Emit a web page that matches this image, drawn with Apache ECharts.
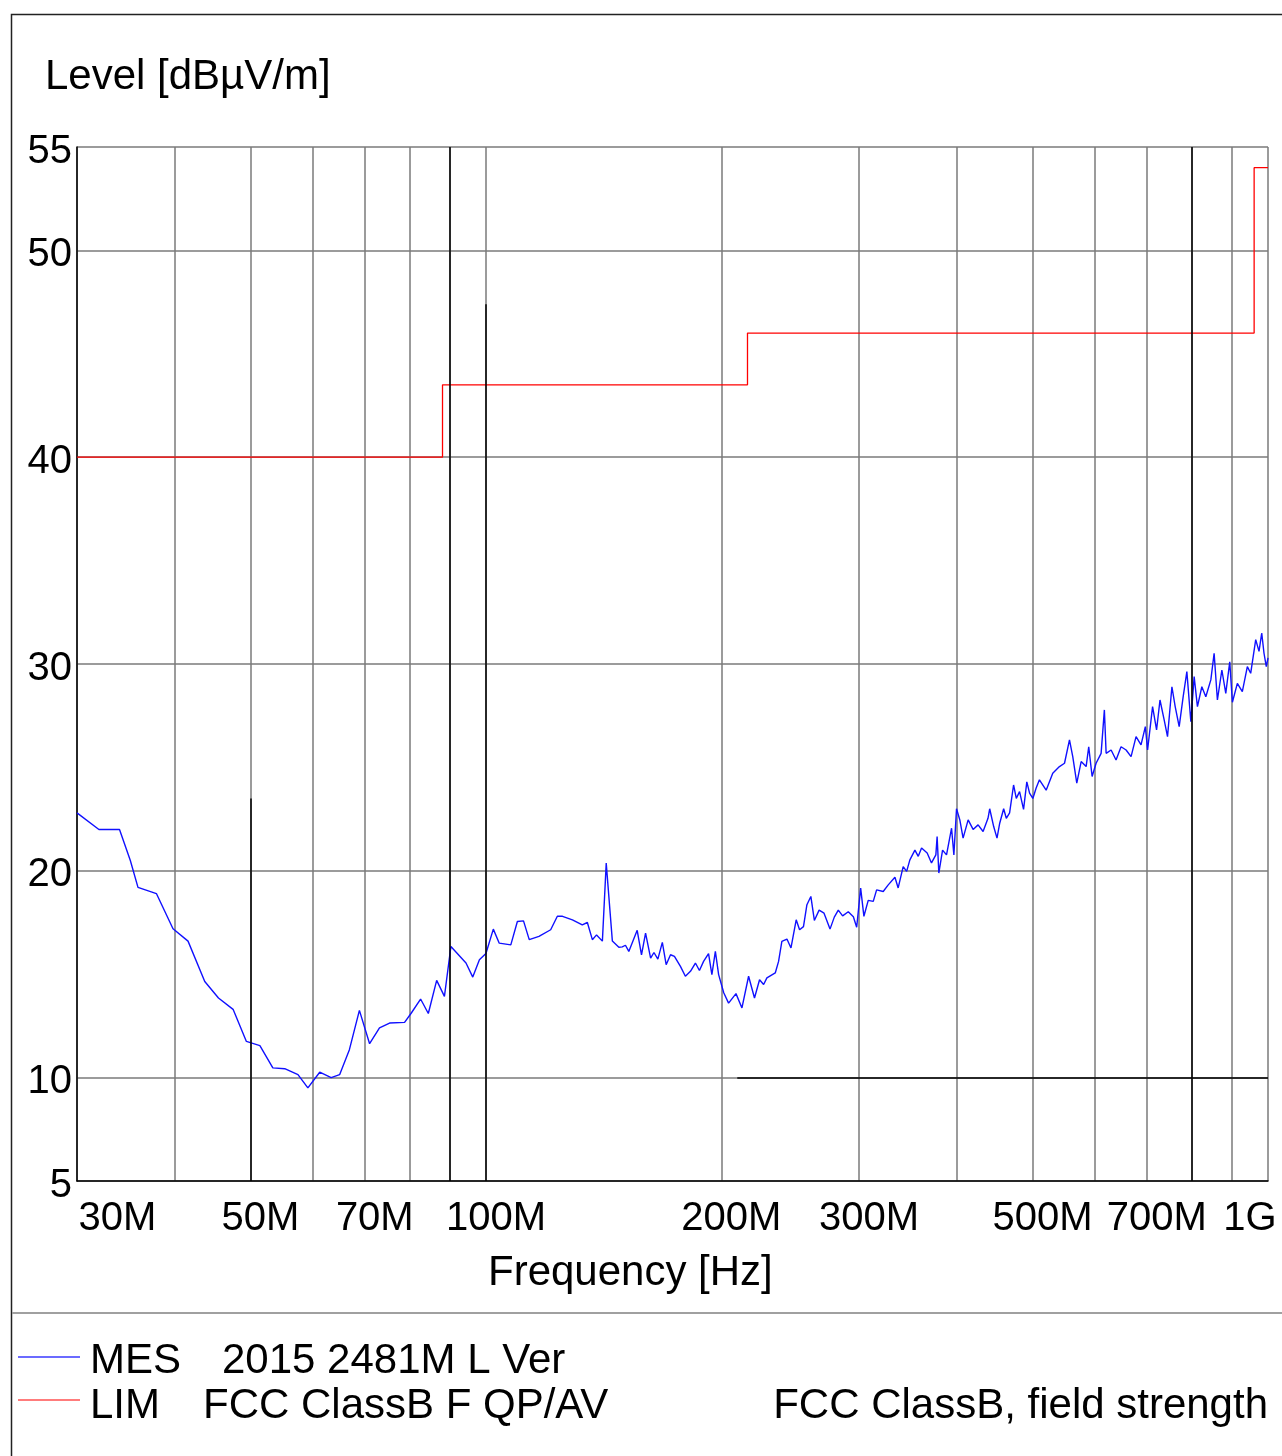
<!DOCTYPE html>
<html>
<head>
<meta charset="utf-8">
<title>Level vs Frequency</title>
<script src="https://cdn.jsdelivr.net/npm/echarts@6/dist/echarts.min.js"></script>
<style>
  html, body { margin: 0; padding: 0; background: #fff; }
  #chart { width: 1282px; height: 1456px; }
</style>
</head>
<body>
<div id="chart"></div>
<script>
// Frequency in MHz, level in dBuV/m
const mesFreq = [
    30.0, 32.0, 34.0, 35.1, 35.9, 37.9, 39.8, 41.6, 43.7, 45.5, 47.5, 49.4, 51.4, 53.4, 55.3, 57.5, 59.2, 61.3, 63.4,
    65.0, 66.9, 68.9, 71.0, 73.1, 75.3, 78.7, 80.2, 82.5, 84.4, 86.5, 88.5, 90.2, 94.3, 96.2, 98.1, 100.0,
    102.2, 104.0, 107.6, 109.7, 111.7, 113.6, 116.9, 121.0, 123.4, 125.3, 129.0, 132.8, 134.8, 136.8, 138.5,
    140.9, 142.5, 145.1, 147.9, 149.4, 150.8, 152.3, 156.1, 158.1, 160.0, 162.4, 164.0, 165.9, 168.1, 170.0,
    172.2, 174.2, 177.3, 179.9, 182.6, 185.3, 187.5, 189.8, 192.6, 194.5, 196.5, 198.4, 201.4, 204.3, 208.8,
    212.5, 216.7, 220.5, 223.8, 226.5, 228.7, 234.4, 236.7, 239.0, 242.6, 245.5, 249.3, 251.8, 254.7, 257.3,
    260.3, 263.0, 266.7, 270.6, 275.4, 278.9, 282.2, 285.8, 290.6, 295.0, 297.9, 301.4, 304.3, 308.2, 312.8,
    315.9, 322.1, 326.9, 333.4, 336.6, 341.6, 345.1, 348.4, 353.6, 357.1, 360.6, 366.6, 371.3, 376.1, 377.5,
    379.4, 383.6, 388.1, 393.9, 396.6, 399.7, 403.6, 407.5, 413.6, 419.7, 425.9, 432.2, 438.5, 440.7, 445.9,
    450.3, 453.9, 459.2, 462.8, 467.3, 472.8, 476.6, 481.2, 486.9, 491.6, 495.6, 500.4, 505.3,
    510.2, 520.4, 530.6, 541.2, 549.3, 557.4, 562.8, 569.5, 576.9, 585.4, 589.9, 595.8, 602.8, 611.8, 617.7,
    620.9, 630.1, 639.3, 648.8, 658.5, 668.2, 678.1, 688.1, 696.9, 701.5, 711.9, 720.3, 727.6, 736.7, 743.9,
    753.6, 760.9, 769.9, 779.0, 787.5, 796.8, 804.6, 812.4, 823.0, 832.7, 845.1, 853.3, 861.6, 873.0, 883.1,
    893.5, 900.5, 913.7, 927.2, 941.0, 950.3, 964.5, 973.9, 981.7, 988.3, 995.0, 1000.0
];
const mesLevel = [
    22.8, 22.0, 22.0, 20.5, 19.2, 18.9, 17.2, 16.6, 14.65, 13.85, 13.3, 11.75, 11.55, 10.47, 10.43, 10.14, 9.5, 10.26, 10.0,
    10.14, 11.35, 13.25, 11.64, 12.4, 12.64, 12.67, 13.1, 13.8, 13.1, 14.7, 13.93, 16.34, 15.54, 14.86, 15.7, 16.0,
    17.18, 16.5, 16.42, 17.55, 17.58, 16.67, 16.83, 17.15, 17.8, 17.8, 17.63, 17.39, 17.5, 16.67, 16.9,
    16.6, 20.37, 16.6, 16.3, 16.32, 16.4, 16.1, 17.12, 15.94, 16.99, 15.78, 16.05, 15.73, 16.54, 15.46,
    15.94, 15.86, 15.38, 14.9, 15.14, 15.54, 15.18, 15.62, 16.0, 14.98, 16.1, 14.98, 14.1, 13.6, 14.06,
    13.37, 14.9, 13.85, 14.73, 14.5, 14.82, 15.06, 15.62, 16.59, 16.7, 16.27, 17.63, 17.15, 17.3, 18.36,
    18.76, 17.6, 18.1, 17.95, 17.18, 17.76, 18.1, 17.82, 18.02, 17.78, 17.27, 19.16, 17.8, 18.57, 18.52,
    19.08, 19.0, 19.32, 19.69, 19.17, 20.2, 19.97, 20.53, 21.0, 20.7, 21.1, 20.86, 20.38, 20.77, 21.66,
    19.89, 21.0, 20.77, 22.06, 20.77, 23.0, 22.46, 21.58, 22.46, 22.0, 22.22, 21.9, 22.54, 23.0, 22.14,
    21.58, 22.3, 23.0, 22.54, 22.8, 24.15, 23.5, 23.83, 22.97, 24.3, 23.76, 23.5, 24.0,
    24.4, 23.9, 24.72, 25.04, 25.2, 26.33, 25.52, 24.24, 25.28, 25.04, 26.0, 24.56, 25.2, 25.68, 27.78,
    25.68, 25.84, 25.36, 26.0, 25.84, 25.52, 26.49, 26.09, 26.97, 25.84, 27.94, 26.81, 28.26, 27.29, 26.49,
    28.9, 27.94, 26.97, 28.42, 29.63, 27.21, 29.39, 27.94, 28.9, 28.42, 29.23, 30.52, 28.26, 29.71, 28.58,
    30.11, 28.15, 29.06, 28.66, 29.87, 29.55, 31.18, 30.61, 31.5, 30.52, 29.87, 30.3
];

// FCC Class B limit, step changes at the listed frequencies
const limFreq = [30, 88, 216, 960, 1000];
const limLevel = [40, 43.5, 46, 54, 54];

// Axis ticks
const xGridValues = [30, 40, 50, 60, 70, 80, 90, 100, 200, 300, 400, 500, 600, 700, 800, 900, 1000];
const xLabelValues = [30, 50, 70, 100, 200, 300, 500, 700, 1000];
const xLabelTexts = ['30M', '50M', '70M', '100M', '200M', '300M', '500M', '700M', '1G'];
const yLabelValues = [5, 10, 20, 30, 40, 50, 55];

// Grid lines that print darker in the original plot
const darkSegments = [
    [[90, 5], [90, 55]],
    [[100, 5], [100, 47.4]],
    [[50, 5], [50, 23.5]],
    [[800, 5], [800, 55]],
    [[209.6, 10], [1000, 10]]
];

const FONT = '"Liberation Sans", Arial, sans-serif';

function pairs(xs, ys) {
    return xs.map((x, i) => [x, ys[i]]);
}

function xLabelFormatter(value) {
    let idx = xLabelValues.findIndex(v => Math.abs(Math.log10(value / v)) < 1e-6);
    if (idx < 0) return '';
    if (idx === 0) return '{first|' + xLabelTexts[idx] + '}';
    if (idx === xLabelValues.length - 1) return '{last|' + xLabelTexts[idx] + '}';
    return '{mid|' + xLabelTexts[idx] + '}';
}

const chart = echarts.init(document.getElementById('chart'), null, { renderer: 'canvas' });

const gridLine = { show: true, lineStyle: { color: '#7a7a7a', width: 1.5 } };

const option = {
    backgroundColor: '#fff',
    animation: false,
    grid: { left: 77, right: 14, top: 147, bottom: 275, containLabel: false },
    xAxis: {
        type: 'log',
        logBase: 10,
        min: 30,
        max: 1000,
        axisLine: { show: true, lineStyle: { color: '#000', width: 1.5 } },
        axisTick: { show: true, length: 0, customValues: xGridValues },
        splitLine: gridLine,
        minorSplitLine: { show: false },
        axisLabel: {
            customValues: xLabelValues,
            margin: 18,
            color: '#000',
            fontFamily: FONT,
            fontSize: 40,
            formatter: xLabelFormatter,
            rich: {
                first: { fontFamily: FONT, fontSize: 40, color: '#000', padding: [0, 0, 0, 81] },
                mid: { fontFamily: FONT, fontSize: 40, color: '#000', padding: [0, 0, 0, 20] },
                last: { fontFamily: FONT, fontSize: 40, color: '#000', padding: [0, 36, 0, 0] }
            }
        }
    },
    yAxis: {
        type: 'value',
        min: 5,
        max: 55,
        axisLine: { show: true, lineStyle: { color: '#000', width: 1.5 } },
        axisTick: { show: true, length: 0, customValues: yLabelValues },
        splitLine: gridLine,
        axisLabel: {
            customValues: yLabelValues,
            margin: 5,
            color: '#000',
            fontFamily: FONT,
            fontSize: 40,
            formatter: v => '{n|' + v + '}',
            rich: {
                n: { fontFamily: FONT, fontSize: 40, color: '#000', padding: [9, 0, 0, 0] }
            }
        }
    },
    graphic: [
        {
            type: 'rect',
            shape: { x: 11.5, y: 14.5, width: 1300, height: 1500 },
            style: { fill: 'none', stroke: '#222', lineWidth: 1.5 },
            silent: true
        },
        {
            type: 'line',
            shape: { x1: 12, y1: 1313, x2: 1282, y2: 1313 },
            style: { stroke: '#a0a0a0', lineWidth: 2 },
            silent: true
        },
        {
            type: 'text',
            style: { x: 45, y: 77, text: 'Level [dB\u00B5V/m]', font: '42px ' + FONT, fill: '#000', align: 'left', verticalAlign: 'middle' }
        },
        {
            type: 'text',
            style: { x: 488, y: 1273, text: 'Frequency [Hz]', font: '42px ' + FONT, fill: '#000', align: 'left', verticalAlign: 'middle' }
        },
        {
            type: 'line',
            shape: { x1: 18, y1: 1357, x2: 80, y2: 1357 },
            style: { stroke: '#3a3aff', lineWidth: 1.5 }
        },
        {
            type: 'line',
            shape: { x1: 18, y1: 1400, x2: 80, y2: 1400 },
            style: { stroke: '#ff5050', lineWidth: 1.5 }
        },
        {
            type: 'text',
            style: { x: 90, y: 1361, text: 'MES', font: '42px ' + FONT, fill: '#000', align: 'left', verticalAlign: 'middle' }
        },
        {
            type: 'text',
            style: { x: 222, y: 1361, text: '2015 2481M L Ver', font: '42px ' + FONT, fill: '#000', align: 'left', verticalAlign: 'middle' }
        },
        {
            type: 'text',
            style: { x: 90, y: 1406, text: 'LIM', font: '42px ' + FONT, fill: '#000', align: 'left', verticalAlign: 'middle' }
        },
        {
            type: 'text',
            style: { x: 203, y: 1406, text: 'FCC ClassB F QP/AV', font: '42px ' + FONT, fill: '#000', align: 'left', verticalAlign: 'middle' }
        },
        {
            type: 'text',
            style: { x: 1268, y: 1406, text: 'FCC ClassB, field strength', font: '42px ' + FONT, fill: '#000', align: 'right', verticalAlign: 'middle' }
        }
    ],
    series: [
        {
            name: 'dark grid',
            type: 'line',
            data: [],
            z: 1,
            silent: true,
            markLine: {
                silent: true,
                symbol: 'none',
                label: { show: false },
                lineStyle: { color: '#000', width: 1.5, type: 'solid' },
                data: darkSegments.map(seg => [{ coord: seg[0] }, { coord: seg[1] }])
            }
        },
        {
            name: 'LIM',
            type: 'line',
            step: 'end',
            data: pairs(limFreq, limLevel),
            showSymbol: false,
            symbol: 'none',
            z: 3,
            lineStyle: { color: '#ff0000', width: 1.3 }
        },
        {
            name: 'MES',
            type: 'line',
            data: pairs(mesFreq, mesLevel),
            showSymbol: false,
            symbol: 'none',
            z: 4,
            lineStyle: { color: '#1010ff', width: 1.4 }
        }
    ]
};

chart.setOption(option);
</script>
</body>
</html>
